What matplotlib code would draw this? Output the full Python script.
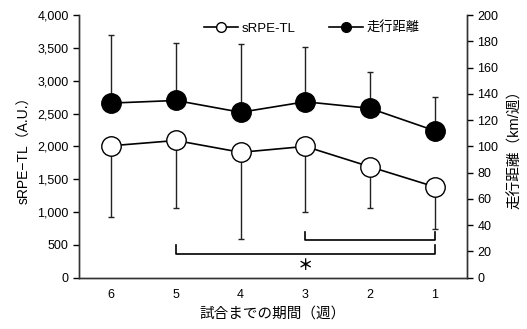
import matplotlib
matplotlib.use("Agg")
import matplotlib.pyplot as plt
from matplotlib.lines import Line2D
import numpy as np

plt.rcParams['font.family'] = ['Liberation Sans', 'Noto Sans CJK JP', 'DejaVu Sans']

weeks = ["6", "5", "4", "3", "2", "1"]
# sRPE-TL (A.U.), mean and SD (lower bar only)
srpe_mean = [2010, 2090, 1910, 2000, 1690, 1385]
srpe_sd = [1090, 1035, 1315, 1000, 630, 645]
# running distance (km/week), mean and SD (upper bar only)
dist_mean = [133, 135, 126, 134, 129, 112]
dist_sd = [52, 44, 52, 42, 28, 26]

x = np.arange(len(weeks))

fig = plt.figure(figsize=(5.27, 3.29), dpi=100)
ax = fig.add_axes([0.150, 0.156, 0.736, 0.798])
ax2 = ax.twinx()

# sRPE-TL: open circles, error bars downward
ax.errorbar(x, srpe_mean, yerr=[srpe_sd, [0] * len(x)], fmt='none',
            ecolor='#222222', elinewidth=1.0, capsize=2.5, capthick=1.0, zorder=2)
ax.plot(x, srpe_mean, '-o', color='black', lw=1.2, ms=14,
        markerfacecolor='white', markeredgecolor='black', markeredgewidth=1.0, zorder=3)

# running distance: filled circles, error bars upward
ax2.errorbar(x, dist_mean, yerr=[[0] * len(x), dist_sd], fmt='none',
             ecolor='#222222', elinewidth=1.0, capsize=2.5, capthick=1.0, zorder=2)
ax2.plot(x, dist_mean, '-o', color='black', lw=1.2, ms=14,
         markerfacecolor='black', markeredgecolor='black', zorder=3)

ax.set_xlim(-0.5, 5.5)
ax.set_ylim(0, 4000)
ax2.set_ylim(0, 200)
ax.set_xticks(x)
ax.set_xticklabels(weeks)
ax.set_yticks(np.arange(0, 4001, 500))
ax.set_yticklabels([f"{v:,}" for v in range(0, 4001, 500)])
ax2.set_yticks(np.arange(0, 201, 20))

for a in (ax, ax2):
    a.spines['top'].set_visible(False)
    for s in a.spines.values():
        s.set_color('#333333')
        s.set_linewidth(1.0)
    a.tick_params(axis='y', direction='out', length=4, width=1.0, labelsize=9, colors='black')
    a.tick_params(axis='x', length=0, labelsize=9, pad=8)

ax.set_ylabel("sRPE−TL（A.U.）", fontsize=10, labelpad=4)
ax2.set_ylabel("走行距離（km/週）", fontsize=10.5, labelpad=7)
ax.set_xlabel("試合までの期間（週）", fontsize=10.5, labelpad=4)

# significance brackets (left axis units)
ax.plot([1, 1, 5, 5], [498, 368, 368, 498], color='black', lw=1.2, zorder=1)
ax.plot([3, 3, 5, 5], [696, 574, 574, 696], color='black', lw=1.2, zorder=1)
ax.text(3, 200, "＊", ha='center', va='center', fontsize=11,
        fontweight='bold', family=['Noto Sans CJK JP'])

handles = [
    Line2D([], [], color='black', lw=1.2, marker='o', ms=7,
           markerfacecolor='white', markeredgecolor='black'),
    Line2D([], [], color='black', lw=1.2, marker='o', ms=7,
           markerfacecolor='black', markeredgecolor='black'),
]
ax2.legend(handles, ["sRPE-TL", "走行距離"], ncol=2, frameon=False,
           loc='upper center', bbox_to_anchor=(0.6, 1.02), fontsize=9.5,
           handlelength=2.6, handletextpad=0.3, columnspacing=2.5)

fig.savefig("out.png", dpi=100)
